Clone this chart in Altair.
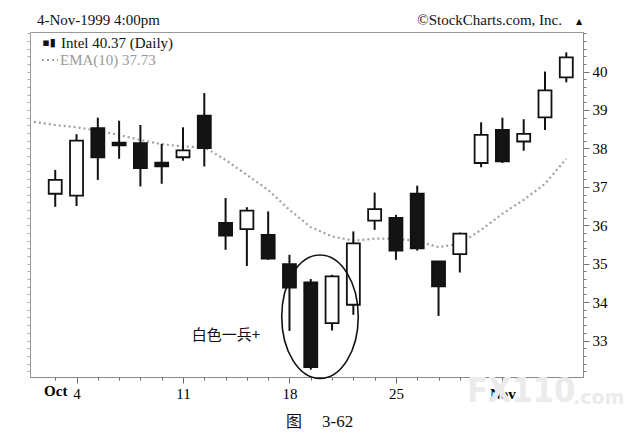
import altair as alt
import pandas as pd

# ---------------- data ----------------
dates = ["Oct 1", "Oct 4", "Oct 5", "Oct 6", "Oct 7", "Oct 8",
         "Oct 11", "Oct 12", "Oct 13", "Oct 14", "Oct 15",
         "Oct 18", "Oct 19", "Oct 20", "Oct 21", "Oct 22",
         "Oct 25", "Oct 26", "Oct 27", "Oct 28", "Oct 29",
         "Nov 1", "Nov 2", "Nov 3", "Nov 4"]
opens = [36.82, 36.77, 38.53, 38.15, 38.14, 37.63, 37.77, 38.85,
         36.06, 35.90, 35.75, 34.99, 34.51, 33.45, 33.93, 36.12,
         36.19, 36.82, 35.06, 35.25, 37.62, 38.48, 38.18, 38.81, 39.85]
highs = [37.44, 38.37, 38.80, 38.72, 38.61, 38.12, 38.55, 39.44,
         36.71, 36.47, 36.36, 35.23, 34.60, 34.71, 35.84, 36.85,
         36.27, 37.03, 35.07, 35.81, 38.68, 38.80, 38.76, 40.00, 40.50]
lows = [36.48, 36.50, 37.18, 37.73, 37.01, 37.08, 37.68, 37.53,
        35.36, 34.94, 35.10, 33.25, 32.24, 33.26, 33.67, 35.88,
        35.10, 35.34, 33.64, 34.77, 37.51, 37.62, 37.94, 38.48, 39.72]
closes = [37.18, 38.20, 37.77, 38.08, 37.49, 37.53, 37.95, 38.01,
          35.73, 36.38, 35.13, 34.38, 32.31, 34.67, 35.53, 36.42,
          35.34, 35.40, 34.41, 35.78, 38.35, 37.66, 38.38, 39.51, 40.37]
# EMA(10): first value is the previous session (Sep 30)
ema_vals = [38.69, 38.61, 38.55, 38.46, 38.35, 38.22, 38.11, 38.05, 38.03,
            37.70, 37.31, 36.92, 36.40, 35.95, 35.71, 35.60, 35.65,
            35.65, 35.59, 35.43, 35.52, 35.88, 36.30, 36.66, 37.08, 37.73]

tick_days = [0, 1, 6, 11, 16, 21]
tick_texts = ["Oct", "4", "11", "18", "25", "Nov"]
month_days = [0, 21]
major_days = [1, 6, 11, 16, 21]
price_labels = [33, 34, 35, 36, 37, 38, 39, 40]

header_left = "4-Nov-1999 4:00pm"
header_right = "\u00a9StockCharts.com, Inc."
legend_main = "Intel 40.37 (Daily)"
legend_ema = "EMA(10) 37.73"
note_text = "白色一兵+"
caption_fig = "图"
caption_num = "3-62"
watermark_big = "FX110"
watermark_small = ".com"

# ---------------- tables ----------------
df = pd.DataFrame({"day": list(range(len(dates))), "date": dates,
                   "open": opens, "high": highs, "low": lows, "close": closes})
ema_df = pd.DataFrame({"day": list(range(-1, len(ema_vals) - 1)), "ema": ema_vals})

SERIF = "Liberation Serif"
W, H = 553, 345

xscale = alt.Scale(domain=[-0.95, 24.55], nice=False, zero=False)
yscale = alt.Scale(domain=[32.05, 41.03], nice=False, zero=False)

label_map = "{" + ",".join(f"'{d}':'{t}'" for d, t in zip(tick_days, tick_texts)) + "}"
x_axis = alt.Axis(
    values=list(range(len(dates))),
    labelExpr=f"{label_map}[toString(datum.value)] || ''",
    tickSize={"condition": {"test": f"indexof({major_days}, datum.value) >= 0", "value": 6}, "value": 3},
    labelFontWeight={"condition": {"test": f"indexof({month_days}, datum.value) >= 0", "value": "bold"}, "value": "normal"},
    labelFont=SERIF, labelFontSize=15, labelColor="black", labelPadding=3,
    labelOverlap=False, labelFlush=False,
    domainColor="#888", tickColor="#666", grid=False, title=None,
)

minor_vals = [round(32.2 + 0.2 * i, 1) for i in range(45)]
major_test = f"indexof({price_labels}, round(datum.value * 10) / 10) >= 0"
y_axis = alt.Axis(
    orient="right", values=minor_vals,
    labelExpr=f"{major_test} ? format(datum.value, 'd') : ''",
    tickSize={"condition": {"test": major_test, "value": 6}, "value": 3},
    labelFont=SERIF, labelFontSize=15, labelColor="black", labelPadding=3,
    labelOverlap=False, domainColor="#888", tickColor="#777", grid=False, title=None,
)
y_axis_left = alt.Axis(
    orient="left", values=minor_vals, labels=False, tickSize=3, tickColor="#aaa",
    domain=False, grid=False, title=None,
)

base = alt.Chart(df)
wicks = base.mark_rule(color="#111", strokeWidth=2).encode(
    x=alt.X("day:Q", scale=xscale, axis=x_axis),
    y=alt.Y("low:Q", scale=yscale, axis=y_axis),
    y2="high:Q",
)
bodies = base.mark_bar(size=13, stroke="#111", strokeWidth=1.8).encode(
    x=alt.X("day:Q", scale=xscale, axis=None),
    y=alt.Y("open:Q", scale=yscale, axis=None),
    y2="close:Q",
    fill=alt.condition("datum.close >= datum.open", alt.value("white"), alt.value("#141414")),
    tooltip=["date:N", "open:Q", "high:Q", "low:Q", "close:Q"],
)
ema = alt.Chart(ema_df).mark_line(
    color="#a0a0a0", strokeWidth=2.2, strokeDash=[2, 3], clip=True
).encode(
    x=alt.X("day:Q", scale=xscale, axis=None),
    y=alt.Y("ema:Q", scale=yscale, axis=y_axis_left),
)

ellipse_path = "M -0.62 0 A 0.62 1 0 1 1 0.62 0 A 0.62 1 0 1 1 -0.62 0 Z"
ellipse = alt.Chart(pd.DataFrame({"k": [1]})).mark_point(
    shape=ellipse_path, size=15228, filled=False, stroke="#111", strokeWidth=1.6, opacity=1
).encode(x=alt.value(290), y=alt.value(284.7))


def txt(s, x, y, **kw):
    return alt.Chart(pd.DataFrame({"t": [s]})).mark_text(**kw).encode(
        text="t:N", x=alt.value(x), y=alt.value(y))


note = txt(note_text, 196, 303, font="Noto Sans CJK SC", fontSize=15, color="#111",
           align="center", baseline="middle")
h_left = txt(header_left, 7, -7, font=SERIF, fontSize=15, color="#111",
             align="left", baseline="alphabetic")
h_right = txt(header_right, 532, -7, font=SERIF, fontSize=15, color="#111",
              align="right", baseline="alphabetic")
h_tri = txt("\u25b2", 549, -8, font="DejaVu Sans", fontSize=8, color="#111",
            align="center", baseline="alphabetic")
icon = txt("\u25aa\u25ae", 19, 10.5, font="DejaVu Sans", fontSize=11, color="#111",
           align="center", baseline="middle")
leg1 = txt(legend_main, 31, 10.5, font=SERIF, fontSize=15, color="#111",
           align="left", baseline="middle")
leg2 = txt(legend_ema, 30, 28, font=SERIF, fontSize=15, color="#9a9a9a",
           align="left", baseline="middle")
leg_line = alt.Chart(pd.DataFrame({"k": [1]})).mark_rule(
    color="#a0a0a0", strokeWidth=2, strokeDash=[2, 3]
).encode(x=alt.value(12), x2=alt.value(28), y=alt.value(28))

wm1 = txt(watermark_big, 437, 360, font="DejaVu Sans Condensed, DejaVu Sans", fontSize=34,
          fontWeight="bold", color="#ebebeb", align="left", baseline="middle")
wm2 = txt(watermark_small, 543, 366, font="DejaVu Sans", fontSize=19, fontWeight="bold",
          color="#ebebeb", align="left", baseline="middle")
cap1 = txt(caption_fig, 264, 390, font="Noto Sans CJK SC", fontSize=16, color="#111",
           align="center", baseline="middle")
cap2 = txt(caption_num, 292, 390, font=SERIF, fontSize=17, color="#111",
           align="left", baseline="middle")

chart = alt.layer(
    wm1, wm2, ema, wicks, bodies, ellipse, note,
    h_left, h_right, h_tri, icon, leg1, leg2, leg_line, cap1, cap2,
).resolve_axis(x="independent", y="independent").properties(
    width=W, height=H,
    padding={"left": 22, "top": 24, "right": 50, "bottom": 55},
    autosize=alt.AutoSizeParams(type="none"),
    background="white",
).configure_view(stroke="#999", strokeWidth=1)

chart.save("out.html", embed_options={"renderer": "svg", "actions": False})
